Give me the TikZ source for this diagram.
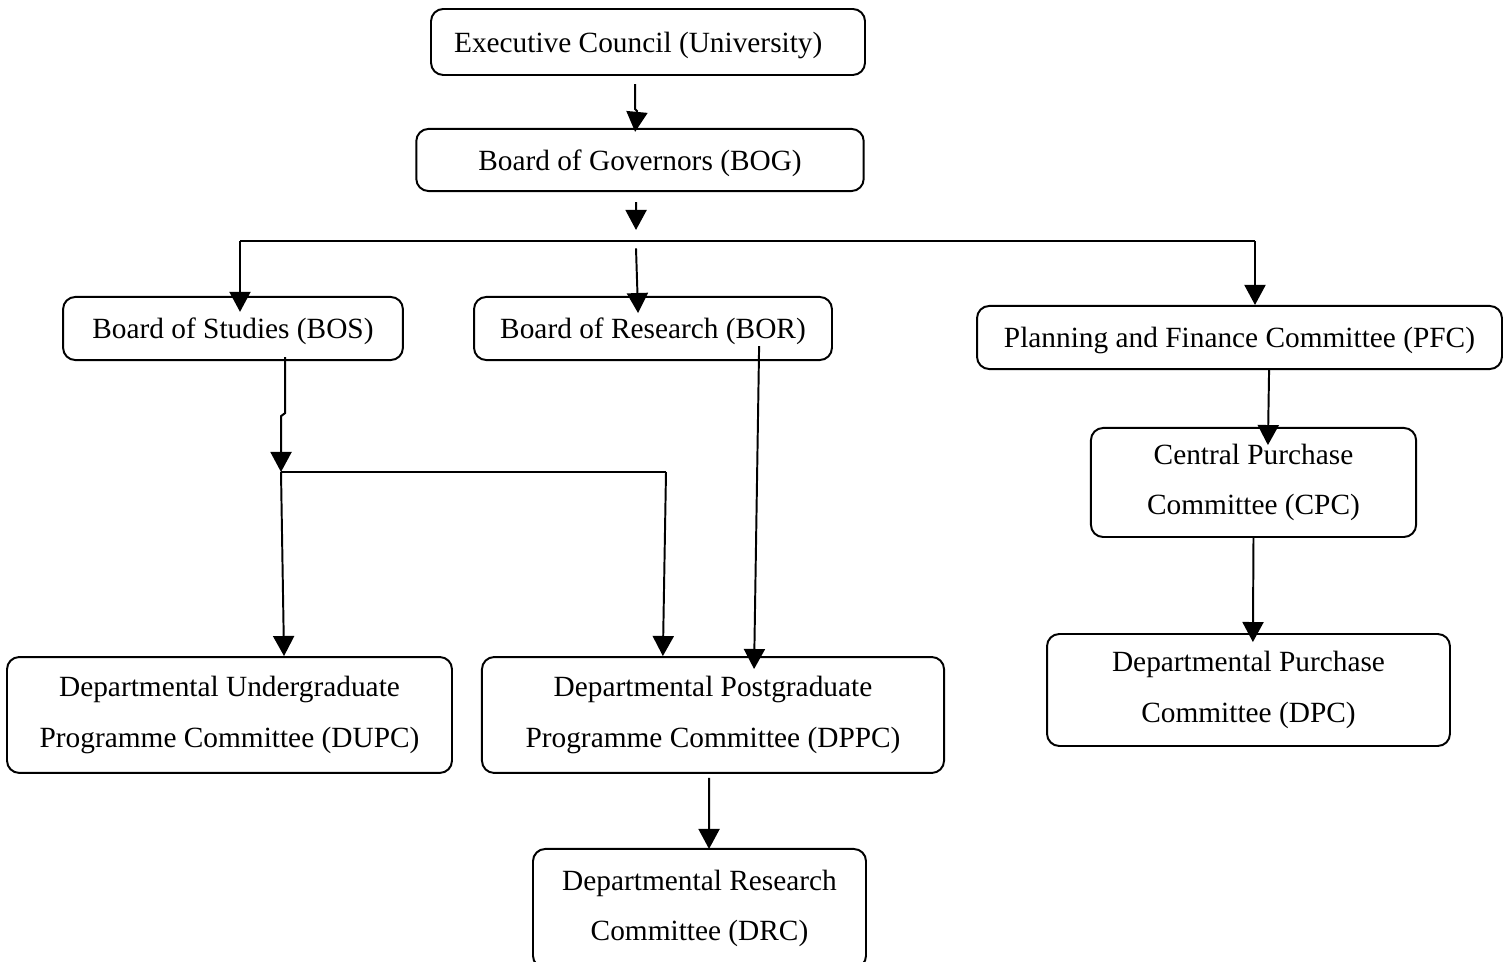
\documentclass[tikz,border=0pt]{standalone}
\usepackage{fontspec}
\setmainfont{Liberation Serif}
\usepackage{tikz}
\usetikzlibrary{arrows.meta}

\begin{document}
\begin{tikzpicture}[x=0.409pt, y=-0.409pt,
    box/.style={draw, line width=0.8pt, rounded corners=5pt, align=center, inner sep=0pt,
                font=\fontsize{12}{20.5}\selectfont, execute at begin node={\rule{0pt}{10.8pt}}},
    arr/.style={line width=0.8pt, -{Triangle[width=8.6pt,length=8.2pt]}},
    ln/.style={line width=0.8pt}]
        \useasboundingbox (0,0) rectangle (1510,962);
        \node[box, minimum width=177.5pt, minimum height=27pt]   (EC)   at (648, 42)     {Executive Council (University)\hspace{8pt}};
        \node[box, minimum width=183pt, minimum height=25.4pt]   (BOG)  at (640, 160)    {Board of Governors (BOG)};
        \node[box, minimum width=139pt, minimum height=25.8pt]   (BOS)  at (233, 328.5)  {Board of Studies (BOS)};
        \node[box, minimum width=146.4pt, minimum height=25.8pt] (BOR)  at (653, 328.5)  {Board of Research (BOR)};
        \node[box, minimum width=214.7pt, minimum height=25.8pt] (PFC)  at (1239.5, 337.5) {Planning and Finance Committee (PFC)};
        \node[box, minimum width=133pt, minimum height=44.6pt]   (CPC)  at (1253.5, 482.5) {Central Purchase\\Committee (CPC)};
        \node[box, minimum width=164.8pt, minimum height=45.8pt] (DPC)  at (1248.5, 690)  {Departmental Purchase\\Committee (DPC)};
        \node[box, minimum width=182pt, minimum height=47.4pt]   (DUPC) at (229.5, 715)  {Departmental Undergraduate\\Programme Committee (DUPC)};
        \node[box, minimum width=189pt, minimum height=47.4pt]   (DPPC) at (713, 715)    {Departmental Postgraduate\\Programme Committee (DPPC)};
        \node[box, minimum width=136.2pt, minimum height=48.7pt] (DRC)  at (699.5, 908.5) {Departmental Research\\Committee (DRC)};
        \coordinate (BL) at (240, 241);
        \coordinate (BM) at (636, 241);
        \coordinate (BR) at (1255, 241);
        \coordinate (SL) at (281, 472);
        \coordinate (SR) at (666, 472);
        \draw [arr] ([xshift=-5.3pt,yshift=-3.3pt]EC.south) -- ++(0,25) -- ++(2,2) -- ([xshift=-2pt,yshift=-1.6pt]BOG.north);
        \draw [arr] ([xshift=-1.6pt,yshift=-4.1pt]BOG.south) -- ([yshift=4.5pt]BM);
        \draw [ln] (BL) -- (BR);
        \draw [arr, shorten >=-6.5pt] (BL) -- (BL |- BOS.north);
        \draw [arr] ([yshift=-3pt]BM) -- ([xshift=-6.1pt,yshift=-7pt]BOR.north);
        \draw [arr] (BR) -- (BR |- PFC.north);
        \draw [arr] ([xshift=21.3pt,yshift=1.6pt]BOS.south) -- ++(0,56) -- ++(-4,3) -- (SL);
        \draw [ln] (SL) -- (SR);
        \draw [arr] (SL) -- ([xshift=22.3pt]DUPC.north);
        \draw [arr] (SR) -- ([xshift=-20.5pt]DPPC.north);
        \draw [arr] ([xshift=43.4pt,yshift=6.1pt]BOR.south) -- ([xshift=16.8pt,yshift=-5.3pt]DPPC.north);
        \draw [arr] ([xshift=-1.6pt,yshift=-1.6pt]DPPC.south) -- ([xshift=3.9pt,yshift=-0.4pt]DRC.north);
        \draw [arr] ([xshift=12.1pt]PFC.south) -- ([xshift=5.9pt,yshift=-7.4pt]CPC.north);
        \draw [arr] (CPC.south) -- ([xshift=1.8pt,yshift=-3.7pt]DPC.north);
\end{tikzpicture}
\end{document}
